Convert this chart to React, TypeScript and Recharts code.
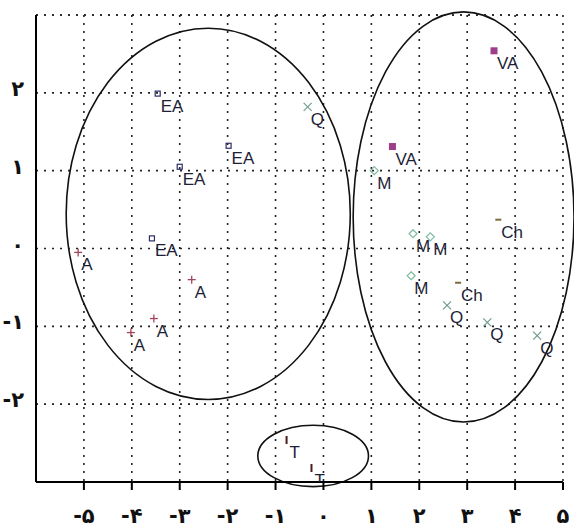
import { ScatterChart, Scatter, XAxis, YAxis, CartesianGrid, ReferenceArea, ReferenceLine } from 'recharts';

// points
const aPoints = [
  { x: -5.12, y: -0.05 },
  { x: -2.75, y: -0.4 },
  { x: -3.54, y: -0.9 },
  { x: -4.02, y: -1.08 },
];
const eaPoints = [
  { x: -3.46, y: 1.99 },
  { x: -3.0, y: 1.05 },
  { x: -3.58, y: 0.13 },
  { x: -1.98, y: 1.32 },
];
const qPoints = [
  { x: -0.33, y: 1.82 },
  { x: 2.58, y: -0.73 },
  { x: 3.42, y: -0.95 },
  { x: 4.46, y: -1.12 },
];
const mPoints = [
  { x: 1.06, y: 1.0 },
  { x: 1.87, y: 0.19 },
  { x: 2.23, y: 0.15 },
  { x: 1.83, y: -0.35 },
];
const vaPoints = [
  { x: 3.56, y: 2.54 },
  { x: 1.44, y: 1.31 },
];
const chPoints = [
  { x: 3.65, y: 0.37 },
  { x: 2.81, y: -0.44 },
];
const tPoints = [
  { x: -0.77, y: -2.46 },
  { x: -0.25, y: -2.82 },
];

const xTicks = [-5, -4, -3, -2, -1, 0, 1, 2, 3, 4, 5];
const yTicks = [-2, -1, 0, 1, 2];

// groups circled on the plot: [x1, x2, y1, y2]
const groups = [
  [-5.37, 0.56, -1.94, 2.83],
  [0.62, 5.23, -2.23, 3.04],
  [-1.37, 0.94, -3.06, -2.27],
];

const faDigits = '۰۱۲۳۴۵۶۷۸۹';
const fa = (n: number) => (n < 0 ? '-' : '') + String(Math.abs(n)).split('').map((d) => faDigits[+d]).join('');

const labelFont = "'Liberation Sans Narrow', 'Liberation Sans', Arial, sans-serif";

function Marker({ kind, cx, cy, text }: any) {
  let m = null;
  if (kind === 'plus') {
    m = (
      <g stroke="#a3445c" strokeWidth={1.3}>
        <line x1={cx - 4} y1={cy} x2={cx + 4} y2={cy} />
        <line x1={cx} y1={cy - 4} x2={cx} y2={cy + 4} />
      </g>
    );
  } else if (kind === 'square') {
    m = <rect x={cx - 2.5} y={cy - 2.5} width={5} height={5} fill="none" stroke="#2e2e66" strokeWidth={1.2} />;
  } else if (kind === 'cross') {
    m = (
      <g stroke="#6f9c8e" strokeWidth={1.2}>
        <line x1={cx - 4} y1={cy - 4} x2={cx + 4} y2={cy + 4} />
        <line x1={cx - 4} y1={cy + 4} x2={cx + 4} y2={cy - 4} />
      </g>
    );
  } else if (kind === 'diamond') {
    m = (
      <polygon
        points={`${cx},${cy - 4} ${cx + 4},${cy} ${cx},${cy + 4} ${cx - 4},${cy}`}
        fill="none"
        stroke="#7dbb9f"
        strokeWidth={1.2}
      />
    );
  } else if (kind === 'filled') {
    m = <rect x={cx - 3.5} y={cy - 3.5} width={7} height={7} fill="#9c3f88" />;
  } else if (kind === 'dash') {
    m = <line x1={cx - 3} y1={cy} x2={cx + 3} y2={cy} stroke="#7c6a38" strokeWidth={2} />;
  } else if (kind === 'tick') {
    m = <line x1={cx} y1={cy - 4} x2={cx} y2={cy + 4} stroke="#4a1c1c" strokeWidth={2} />;
  }
  return (
    <g>
      {m}
      <text x={cx + 3} y={cy + 18} fontFamily={labelFont} fontSize={17} fill="#1e1e36">
        {text}
      </text>
    </g>
  );
}

const shapeFor = (kind: string, text: string) => (props: any) => (
  <Marker kind={kind} cx={props.cx} cy={props.cy} text={text} />
);

const XTick = ({ x, y, payload }: any) => (
  <text x={x} y={y + 31} textAnchor="middle" fontFamily="'DejaVu Sans', sans-serif" fontWeight="bold" fontSize={21} fill="#111">
    {fa(payload.value)}
  </text>
);

const YTick = ({ x, y, payload }: any) => (
  <text x={x - 4} y={y + 3} textAnchor="end" fontFamily="'DejaVu Sans', sans-serif" fontWeight="bold" fontSize={21} fill="#111">
    {fa(payload.value)}
  </text>
);

const EllipseShape = (props: any) => {
  const { x, y, width, height } = props;
  return (
    <ellipse
      cx={x + width / 2}
      cy={y + height / 2}
      rx={width / 2}
      ry={height / 2}
      fill="none"
      stroke="#111"
      strokeWidth={1.6}
    />
  );
};

export default function App() {
  return (
    <div style={{ position: 'absolute', left: 0, top: 0, background: '#fff' }}>
      <ScatterChart width={574} height={529} margin={{ top: 15, right: 11, bottom: 0, left: 0 }}>
        <CartesianGrid stroke="#222" strokeWidth={1.6} strokeDasharray="2 6" />
        <ReferenceLine y={3} stroke="#222" strokeWidth={1.6} strokeDasharray="2 6" />
        <XAxis
          type="number"
          dataKey="x"
          domain={[-6, 5]}
          ticks={xTicks}
          allowDataOverflow
          height={47}
          axisLine={{ stroke: '#000', strokeWidth: 2 }}
          tickLine={{ stroke: '#000', strokeWidth: 2 }}
          tickSize={8}
          tick={<XTick />}
        />
        <YAxis
          type="number"
          dataKey="y"
          domain={[-3, 3]}
          ticks={yTicks}
          allowDataOverflow
          width={36}
          axisLine={{ stroke: '#000', strokeWidth: 2 }}
          tickLine={false}
          tick={<YTick />}
        />
        {groups.map((g, i) => (
          <ReferenceArea key={i} x1={g[0]} x2={g[1]} y1={g[2]} y2={g[3]} ifOverflow="visible" shape={EllipseShape} />
        ))}
        <Scatter data={aPoints} isAnimationActive={false} shape={shapeFor('plus', 'A')} />
        <Scatter data={eaPoints} isAnimationActive={false} shape={shapeFor('square', 'EA')} />
        <Scatter data={qPoints} isAnimationActive={false} shape={shapeFor('cross', 'Q')} />
        <Scatter data={mPoints} isAnimationActive={false} shape={shapeFor('diamond', 'M')} />
        <Scatter data={vaPoints} isAnimationActive={false} shape={shapeFor('filled', 'VA')} />
        <Scatter data={chPoints} isAnimationActive={false} shape={shapeFor('dash', 'Ch')} />
        <Scatter data={tPoints} isAnimationActive={false} shape={shapeFor('tick', 'T')} />
      </ScatterChart>
    </div>
  );
}
